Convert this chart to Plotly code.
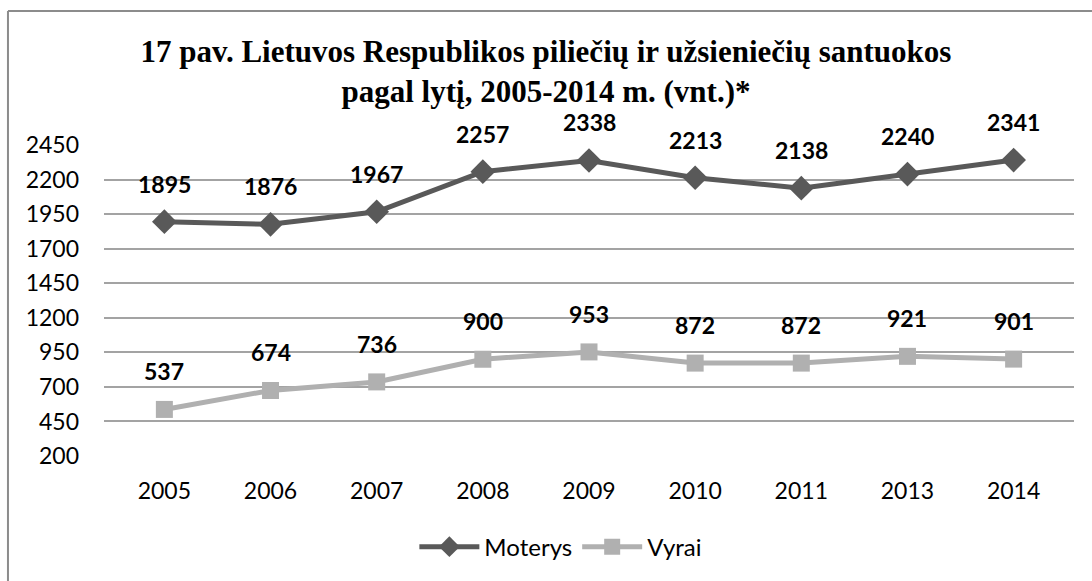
import plotly.graph_objects as go

years = ["2005", "2006", "2007", "2008", "2009", "2010", "2011", "2013", "2014"]
moterys = [1895, 1876, 1967, 2257, 2338, 2213, 2138, 2240, 2341]
vyrai = [537, 674, 736, 900, 953, 872, 872, 921, 901]
y_ticks = [200, 450, 700, 950, 1200, 1450, 1700, 1950, 2200, 2450]

DARK = "#595959"
LIGHT = "#b0b0b0"
SANS = "Lato, Noto Sans, sans-serif"
LABEL_FONT = dict(family=SANS, size=23, color="#000000")

fig = go.Figure()
fig.add_trace(go.Scatter(
    x=years, y=moterys, name="Moterys", mode="lines+markers",
    line=dict(color=DARK, width=5),
    marker=dict(symbol="diamond", size=19, color=DARK),
))
fig.add_trace(go.Scatter(
    x=years, y=vyrai, name="Vyrai", mode="lines+markers",
    line=dict(color=LIGHT, width=5),
    marker=dict(symbol="square", size=17, color=LIGHT),
))

# data labels above each point (category index for x)
for series in (moterys, vyrai):
    for i, v in enumerate(series):
        fig.add_annotation(
            x=i, y=v, text=f"<b>{v}</b>", showarrow=False,
            yshift=38, font=LABEL_FONT,
        )

# frame: top and left edge only
frame = dict(color="#8c8c8c", width=2)
fig.add_shape(type="line", xref="paper", yref="paper", x0=-0.099, x1=1.03,
              y0=1.431, y1=1.431, line=frame)
fig.add_shape(type="line", xref="paper", yref="paper", x0=-0.099, x1=-0.099,
              y0=1.431, y1=-0.41, line=frame)

fig.update_xaxes(
    type="category", showgrid=False, showline=False, ticks="",
    tickfont=dict(family=SANS, size=23, color="#000"),
    ticklabelstandoff=19,
)
fig.update_yaxes(
    range=[200, 2450], tickvals=y_ticks, showgrid=True,
    gridcolor="#a3a3a3", gridwidth=2, zeroline=False,
    tickfont=dict(family=SANS, size=23, color="#000"),
    ticklabelstandoff=24,
)

fig.update_layout(
    width=1092, height=581,
    paper_bgcolor="white", plot_bgcolor="white",
    margin=dict(l=104, r=18, t=145, b=125),
    title=dict(
        text="<b>17 pav. Lietuvos Respublikos piliečių ir užsieniečių santuokos<br>pagal lytį, 2005-2014 m. (vnt.)*</b>",
        x=0.5, xanchor="center", y=0.893, yanchor="middle",
        font=dict(family="Liberation Serif, Times New Roman, serif", size=31, color="#000"),
    ),
    legend=dict(
        orientation="h", x=0.471, xanchor="center", y=-0.293, yanchor="middle",
        font=dict(family=SANS, size=24, color="#000"),
        itemwidth=60,
    ),
    showlegend=True,
)

# drop the default page margin so the figure fills the window exactly
fig.write_html("out.html", config=dict(displayModeBar=False),
               post_script="document.body.style.margin='0';document.body.style.overflow='hidden';")
